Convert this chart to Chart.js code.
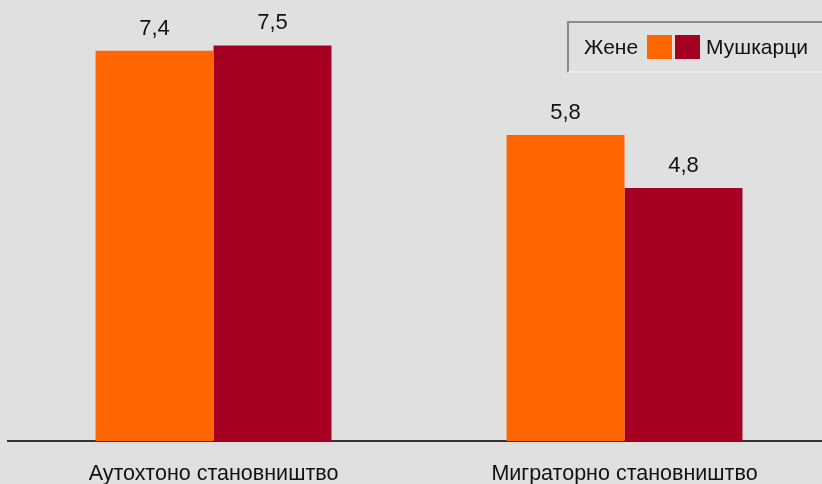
<!DOCTYPE html>
<html lang="sr">
<head>
    <meta charset="UTF-8">
    <title>Аутохтоно и миграторно становништво</title>
    <script src="https://cdn.jsdelivr.net/npm/chart.js"></script>
    <style>
        html, body { margin: 0; padding: 0; background: #e0e0e0; overflow: hidden; }
        #wrap { position: relative; width: 822px; height: 484px; overflow: hidden; }
        #myChart { position: absolute; left: 0; top: 0; }
        #legend {
            position: absolute; left: 567px; top: 21px; width: 260px; height: 52px;
            border-top: 2px solid #8a8a8a; border-left: 2px solid #8a8a8a;
            border-bottom: 2px solid #ececec;
            font-family: "Liberation Sans", Arial, sans-serif; font-size: 21px; color: #111;
            display: flex; align-items: center; box-sizing: border-box; padding-left: 15px;
        }
        #legend .box { display: inline-block; width: 25px; height: 24px; margin-right: 3px; }
    </style>
</head>
<body>
<div id="wrap">
    <canvas id="myChart" width="832" height="507"></canvas>
    <div id="legend"></div>
</div>
<script>
    const categories = ['Аутохтоно становништво', 'Миграторно становништво'];
    const zene = [7.4, 5.8];
    const muskarci = [7.5, 4.8];
    const seriesNames = ['Жене', 'Мушкарци'];
    const colors = ['#ff6600', '#a50021'];

    const font = 'Liberation Sans, Arial, sans-serif';

    // вредности изнад стубова, са децималним зарезом
    const valueLabels = {
        id: 'valueLabels',
        afterDatasetsDraw(chart) {
            const c = chart.ctx;
            c.save();
            c.font = '22px ' + font;
            c.fillStyle = '#111';
            c.textAlign = 'center';
            c.textBaseline = 'alphabetic';
            chart.data.datasets.forEach((ds, i) => {
                chart.getDatasetMeta(i).data.forEach((bar, j) => {
                    c.fillText(String(ds.data[j]).replace('.', ','), bar.x, bar.y - 16);
                });
            });
            c.restore();
        }
    };

    const chart = new Chart(document.getElementById('myChart'), {
        type: 'bar',
        data: {
            labels: categories,
            datasets: [
                { label: seriesNames[0], data: zene, backgroundColor: colors[0] },
                { label: seriesNames[1], data: muskarci, backgroundColor: colors[1] }
            ]
        },
        options: {
            responsive: false,
            animation: false,
            layout: { padding: { left: 8, right: 2, top: 19, bottom: 0 } },
            datasets: { bar: { barPercentage: 1, categoryPercentage: 0.574 } },
            plugins: { legend: { display: false }, tooltip: { enabled: false } },
            scales: {
                x: {
                    grid: { display: false, drawTicks: false },
                    border: { display: true, color: '#333', width: 2 },
                    ticks: { color: '#111', padding: 20, font: { family: font, size: 21.5 } }
                },
                y: { display: false, min: 0, max: 8 }
            }
        },
        plugins: [valueLabels]
    });

    // легенда: назив, квадрат, квадрат, назив
    const legend = document.getElementById('legend');
    const ds = chart.data.datasets;
    legend.innerHTML =
        '<span style="margin-right:9px">' + ds[0].label + '</span>' +
        '<span class="box" style="background:' + ds[0].backgroundColor + '"></span>' +
        '<span class="box" style="background:' + ds[1].backgroundColor + ';margin-right:6px"></span>' +
        '<span>' + ds[1].label + '</span>';
</script>
</body>
</html>
